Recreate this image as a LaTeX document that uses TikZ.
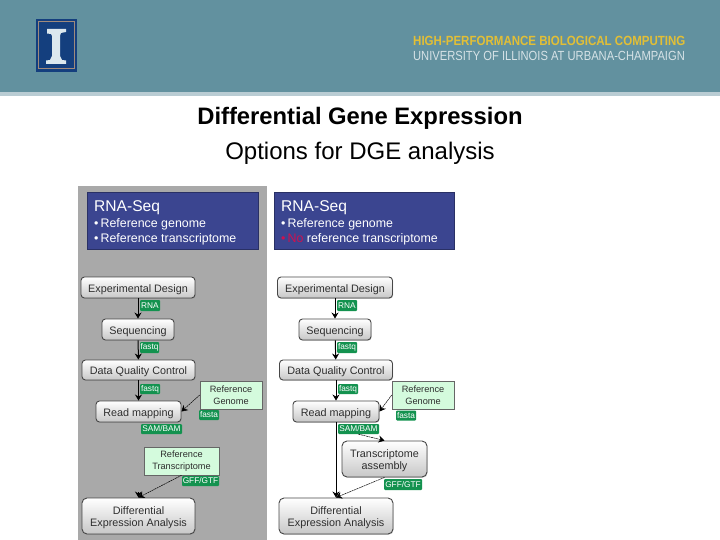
\documentclass[tikz,border=0pt]{standalone}
\usepackage{fontspec}
\setmainfont{Liberation Sans}
\usetikzlibrary{arrows.meta,shadows}
\definecolor{teal1}{HTML}{62919F}
\definecolor{teal2}{HTML}{B9CCD3}
\definecolor{panel}{HTML}{A9A9A9}
\definecolor{navy}{HTML}{3B4590}
\definecolor{logoblue}{HTML}{143F7E}
\definecolor{logotan}{HTML}{A08A7C}
\definecolor{logowhite}{HTML}{DCE8EE}
\definecolor{lab}{HTML}{13924F}
\definecolor{mint}{HTML}{D4FBDD}
\definecolor{txt}{HTML}{2E2E2E}
\definecolor{nored}{HTML}{D0104E}
\newcommand{\fs}[2][0]{\fontsize{#2}{\ifdim#1pt=0pt #2\else #1\fi}\selectfont}
\newcommand{\low}[1]{\raisebox{-2pt}[\height][\depth]{#1}}
\tikzset{
  x=1pt,y=-1pt,
  basebox/.style={draw=black!72,line width=0.9pt,rounded corners=3.5pt,top color=white,bottom color=black!22,
    text=txt,align=center,font=\fs[12]{10.8},inner sep=0pt,
    drop shadow={shadow xshift=0.6pt,shadow yshift=-0.8pt,opacity=0.35}},
  stepbox/.style={basebox,execute at begin node={\rule{0pt}{11.3pt}}},
  tallbox/.style={basebox,rounded corners=5pt},
  refbox/.style={draw=black!60,line width=0.6pt,fill=mint,text=txt,align=center,font=\fs[11.5]{9.2},inner sep=0pt,
    drop shadow={shadow xshift=0.7pt,shadow yshift=-0.7pt,opacity=0.4}},
  tag/.style={fill=lab,text=white,rounded corners=1pt,font=\fs{8.3},inner sep=0pt},
  solidarrow/.style={-{Stealth[length=6pt,width=7pt]},line width=1pt,black},
  thinarrow/.style={-{Stealth[length=6pt,width=7pt]},line width=0.5pt,black,dash pattern=on 2pt off 0.6pt},
  bluebox/.style={fill=navy,draw=navy!70!black,line width=0.5pt,inner sep=0pt},
  bluetxt/.style={text=white,anchor=west,inner sep=0pt},
}
\begin{document}
\begin{tikzpicture}
\useasboundingbox (0,0) rectangle (720,540);
% header
\fill[white] (0,0) rectangle (720,540);
\fill[teal1] (0,0) rectangle (720,92);
\fill[teal2] (0,92) rectangle (720,96);
% logo
\fill[logoblue] (36,19) rectangle (77,72);
\draw[logotan,line width=1pt] (38.5,22) rectangle (74.5,69);
\fill[logowhite] (47,29) -- (66,29) -- (66,32) -- (61,33) -- (60,36) -- (60,56) -- (62,60) -- (66,60.5) -- (66,64) -- (46,64) -- (46,60.5) -- (50,60) -- (52,56) -- (52,36) -- (51,34) -- (47,33.5) -- cycle;
\node[anchor=west,inner sep=0pt,text={rgb,255:red,226;green,191;blue,54},font=\bfseries\fs{13.3},xscale=0.867] (hpc) at (413,41) {HIGH-PERFORMANCE BIOLOGICAL COMPUTING};
\node[anchor=west,inner sep=0pt,text={rgb,255:red,214;green,226;blue,230},font=\fs{13.2},xscale=0.847] (uiuc) at (413,56) {UNIVERSITY OF ILLINOIS AT URBANA-CHAMPAIGN};
% title
\node[font=\bfseries\fs{23.8},inner sep=0pt,text=black] (t1) at (360,118) {Differential Gene Expression};
\node[font=\fs{24},inner sep=0pt,text=black] (t2) at (360,153) {Options for DGE analysis};
% left panel
\fill[panel] (78,186) rectangle (267,540);
\node[bluebox,minimum width=171pt,minimum height=57pt] (bL) at (172.5,220.5) {};
\node[bluetxt,font=\fs{15.6}] (bL1) at (94,208) {RNA-Seq};
\node[bluetxt,font=\fs{12.4}] (bL2) at (94,224) {•\,Reference genome};
\node[bluetxt,font=\fs{12.4}] (bL3) at (94,239) {•\,Reference transcriptome};
% right blue
\node[bluebox,minimum width=180pt,minimum height=57pt] (bR) at (364,220.5) {};
\node[bluetxt,font=\fs{15.6}] (bR1) at (281,208) {RNA-Seq};
\node[bluetxt,font=\fs{12.4}] (bR2) at (281,224) {•\,Reference genome};
\node[bluetxt,font=\fs{12.4}] (bR3) at (281,239) {\textcolor{nored}{•\,No} reference transcriptome};
% left boxes
\node[stepbox,minimum width=114pt,minimum height=21pt] (eL) at (138,287.5) {Experimental Design};
\node[stepbox,minimum width=72pt,minimum height=21pt] (sL) at (138,329.5) {Sequencing};
\node[stepbox,minimum width=113pt,minimum height=20pt] (qL) at (138.5,370) {Data Quality Control};
\node[stepbox,minimum width=85pt,minimum height=21pt] (mL) at (138.5,411.5) {Read mapping};
\node[refbox,minimum width=62pt,minimum height=28pt] (gL) at (231,395) {Reference\\Genome};
\node[refbox,minimum width=75pt,minimum height=28pt] (tL) at (181.5,461) {Reference\\Transcriptome};
\node[tallbox,minimum width=113pt,minimum height=36pt] (dL) at (138.5,516) {\low{Differential}\\\low{Expression Analysis}};
\coordinate (dLs) at (138.5,492);
\draw[solidarrow] (eL) -- (sL);
\draw[solidarrow] (sL) -- (qL);
\draw[solidarrow] (qL) -- (mL);
\draw[thinarrow] (gL.west) -- (mL.east);
\draw[thinarrow] (tL.south) -- (dL.north);
\draw[solidarrow] (dLs) -- (dL.north);
\node[tag,minimum width=20pt,minimum height=11pt] (l1) at (150,305.5) {RNA};
\node[tag,minimum width=19pt,minimum height=11pt] (l2) at (149.5,347.5) {fastq};
\node[tag,minimum width=20pt,minimum height=10pt] (l3) at (150,389) {fastq};
\node[tag,minimum width=20pt,minimum height=10pt] (l4) at (209,415) {fasta};
\node[tag,minimum width=41pt,minimum height=10pt] (l5) at (161.5,429) {SAM/BAM};
\node[tag,minimum width=37pt,minimum height=10pt] (l6) at (200.5,481) {GFF/GTF};
% right boxes
\node[stepbox,minimum width=115pt,minimum height=21pt] (eR) at (335,287.5) {Experimental Design};
\node[stepbox,minimum width=72pt,minimum height=21pt] (sR) at (335,329.5) {Sequencing};
\node[stepbox,minimum width=113pt,minimum height=20pt] (qR) at (336,370) {Data Quality Control};
\node[stepbox,minimum width=86pt,minimum height=21pt] (mR) at (336,411.5) {Read mapping};
\node[refbox,minimum width=62pt,minimum height=28pt] (gR) at (423,395) {Reference\\Genome};
\node[tallbox,minimum width=85pt,minimum height=36pt] (aR) at (384.5,459) {\low{Transcriptome}\\\low{assembly}};
\node[tallbox,minimum width=114pt,minimum height=36pt] (dR) at (336,516) {\low{Differential}\\\low{Expression Analysis}};
\draw[solidarrow] (eR) -- (sR);
\draw[solidarrow] (sR) -- (qR);
\draw[solidarrow] (qR) -- (mR);
\draw[thinarrow] (gR.west) -- (mR.east);
\draw[solidarrow] (mR) -- (dR);
\node[tag,minimum width=20pt,minimum height=11pt] (r1) at (347,305.5) {RNA};
\node[tag,minimum width=20pt,minimum height=11pt] (r2) at (347,347.5) {fastq};
\node[tag,minimum width=20pt,minimum height=10pt] (r3) at (348,389) {fastq};
\node[tag,minimum width=20pt,minimum height=10pt] (r4) at (406,415.5) {fasta};
\node[tag,minimum width=41pt,minimum height=10pt] (r5) at (358.5,429) {SAM/BAM};
\node[tag,minimum width=38pt,minimum height=11pt] (r6) at (403,484.5) {GFF/GTF};
\draw[thinarrow] (r5.south) -- (aR.north);
\draw[thinarrow] (aR.south) -- (dR.north);
\end{tikzpicture}
\end{document}
